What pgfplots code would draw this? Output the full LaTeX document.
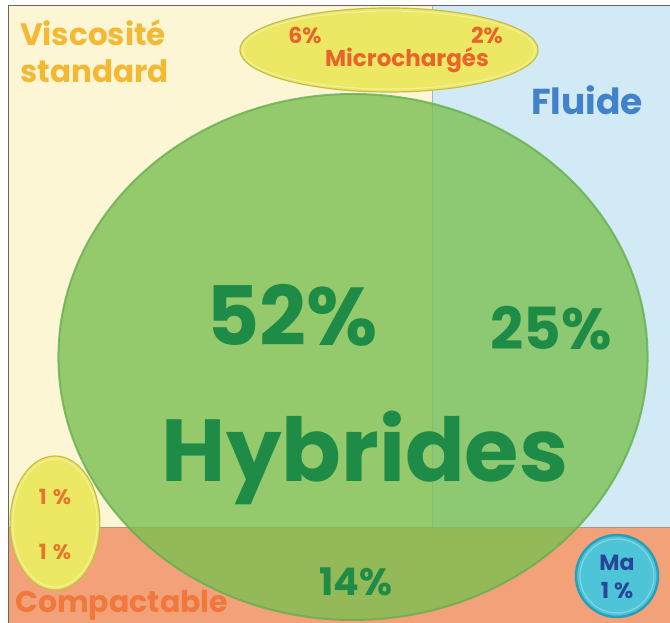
\documentclass[border=0pt]{standalone}
\usepackage{fontspec}
\setmainfont{Poppins}
\usepackage{pgfplots}
\pgfplotsset{compat=1.18}
\definecolor{cream}{RGB}{252,246,213}
\definecolor{skyb}{RGB}{209,234,246}
\definecolor{salmon}{RGB}{243,161,120}
\definecolor{hybgreen}{RGB}{124,192,82}
\definecolor{hybedge}{RGB}{100,175,80}
\definecolor{yel}{RGB}{236,232,100}
\definecolor{yeledge}{RGB}{200,190,70}
\definecolor{cyanc}{RGB}{78,196,216}
\definecolor{cyanedge}{RGB}{40,160,185}
\definecolor{tviscos}{RGB}{244,185,50}
\definecolor{tmicro}{RGB}{232,100,40}
\definecolor{tone}{RGB}{232,118,42}
\definecolor{tfluide}{RGB}{65,130,200}
\definecolor{tgreen}{RGB}{30,140,70}
\definecolor{tcompact}{RGB}{240,120,60}
\definecolor{tma}{RGB}{40,70,150}
\begin{document}
\begin{tikzpicture}
\begin{axis}[scale only axis, width=670pt, height=623pt,
  xmin=0, xmax=670, ymin=0, ymax=623, y dir=reverse, hide axis, set layers]
% background regions
\addplot[fill=white, draw=none] coordinates {(0,0)(670,0)(670,623)(0,623)} -- cycle;
\addplot[fill=cream, draw=none] coordinates {(8,6)(432,6)(432,527)(8,527)} -- cycle;
\addplot[fill=skyb, draw=none] coordinates {(432,6)(670,6)(670,527)(432,527)} -- cycle;
\addplot[fill=salmon, draw=none] coordinates {(8,527)(670,527)(670,623)(8,623)} -- cycle;
% Hybrides
\addplot[only marks, mark=*, mark size=263pt,
  mark options={xscale=1.12, fill=hybgreen, fill opacity=0.8, draw=hybedge, draw opacity=0.8, line width=2pt}]
  coordinates {(353,357)};
% Microcharges
\addplot[only marks, mark=*, mark size=42pt,
  mark options={xscale=3.55, fill=yel, draw=yeledge, line width=1.2pt}]
  coordinates {(389,50)};
\addplot[only marks, mark=o, mark size=39pt,
  mark options={xscale=3.75, draw=white, draw opacity=0.35, line width=1.2pt}]
  coordinates {(389,50)};
% left yellow
\addplot[only marks, mark=*, mark size=67pt,
  mark options={xscale=0.67, fill=yel, draw=yeledge, line width=1.2pt}]
  coordinates {(55,523)};
\addplot[only marks, mark=o, mark size=64pt,
  mark options={xscale=0.66, draw=white, draw opacity=0.35, line width=1.2pt}]
  coordinates {(55,523)};
% Ma
\addplot[only marks, mark=*, mark size=41pt,
  mark options={fill=cyanc, draw=cyanedge, line width=2.5pt}]
  coordinates {(617,576)};
\addplot[only marks, mark=o, mark size=37pt,
  mark options={draw=white, draw opacity=0.3, line width=1.2pt}]
  coordinates {(617,576)};
% separating lines
\addplot[gray, draw opacity=0.5, line width=0.8pt] coordinates {(432,6)(432,527)};
\addplot[gray, draw opacity=0.5, line width=0.8pt] coordinates {(8,527)(670,527)};
% frame
\addplot[black!60, line width=1pt] coordinates {(8,623)(8,6)(670,6)};
% texts
\begin{pgfonlayer}{axis foreground}
\node[anchor=west, text=tviscos, font=\fontsize{31}{31}\selectfont\bfseries, inner sep=0pt] at (20,33) {Viscosité};
\node[anchor=west, text=tviscos, font=\fontsize{31}{31}\selectfont\bfseries, inner sep=0pt] at (20,71) {standard};
\node[text=tfluide, font=\fontsize{36}{36}\selectfont\bfseries, inner sep=0pt] at (587,100) {Fluide};
\node[text=tmicro, font=\fontsize{22}{22}\selectfont\bfseries, inner sep=0pt] at (305,35) {6\%};
\node[text=tmicro, font=\fontsize{22}{22}\selectfont\bfseries, inner sep=0pt] at (487,35) {2\%};
\node[text=tmicro, font=\fontsize{23}{23}\selectfont\bfseries, inner sep=0pt] at (407,60) {Microchargés};
\node[text=tgreen, font=\fontsize{82}{82}\selectfont\bfseries, inner sep=0pt] at (292,315) {52\%};
\node[text=tgreen, font=\fontsize{58}{58}\selectfont\bfseries, inner sep=0pt] at (551,328) {25\%};
\node[text=tgreen, font=\fontsize{88}{88}\selectfont\bfseries, inner sep=0pt] at (365,458) {Hybrides};
\node[text=tgreen, font=\fontsize{38}{38}\selectfont\bfseries, inner sep=0pt] at (356,582) {14\%};
\node[text=tone, font=\fontsize{21}{21}\selectfont\bfseries, inner sep=0pt] at (55,497) {1\kern6pt\%};
\node[text=tone, font=\fontsize{21}{21}\selectfont\bfseries, inner sep=0pt] at (55,552) {1\kern6pt\%};
\node[anchor=west, text=tcompact, font=\fontsize{30}{30}\selectfont\bfseries, inner sep=0pt] at (15,605) {Compactable};
\node[text=tma, font=\fontsize{22}{22}\selectfont\bfseries, inner sep=0pt] at (617,563) {Ma};
\node[text=tma, font=\fontsize{22}{22}\selectfont\bfseries, inner sep=0pt] at (617,591) {1\kern5pt\%};
\end{pgfonlayer}
\end{axis}
\end{tikzpicture}
\end{document}
